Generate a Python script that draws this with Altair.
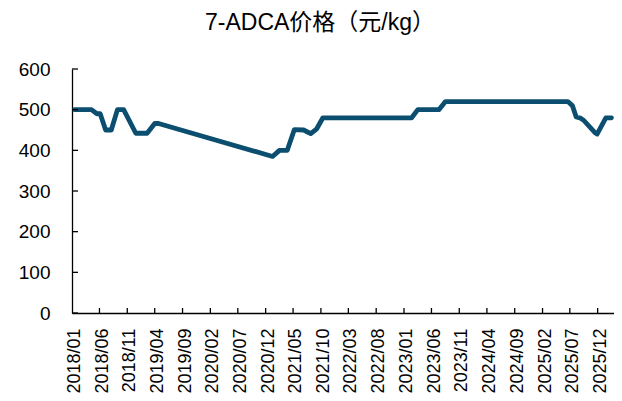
import altair as alt
import pandas as pd

# ---- data ----
dates = [
    "2018-01-15", "2018-04-18", "2018-05-18", "2018-06-05", "2018-07-05",
    "2018-08-05", "2018-09-08", "2018-10-12", "2018-12-18", "2019-02-18",
    "2019-04-01", "2019-04-22", "2021-01-08", "2021-02-15", "2021-03-30",
    "2021-05-08", "2021-06-28", "2021-08-06", "2021-09-08", "2021-10-12",
    "2023-02-12", "2023-03-18", "2023-07-12", "2023-08-17", "2025-06-20",
    "2025-07-15", "2025-08-05", "2025-08-25", "2025-09-15", "2025-11-15",
    "2025-11-28", "2026-01-15", "2026-02-15",
]
prices = [
    500, 500, 490, 490, 450,
    450, 500, 500, 442, 442,
    466, 466, 385, 400, 400,
    451, 450, 441, 453, 480,
    480, 500, 500, 520, 520,
    510, 482, 480, 474, 444,
    440, 480, 480,
]
y_ticks = [0, 100, 200, 300, 400, 500, 600]
x_labels = [
    "2018/01", "2018/06", "2018/11", "2019/04", "2019/09", "2020/02", "2020/07",
    "2020/12", "2021/05", "2021/10", "2022/03", "2022/08", "2023/01", "2023/06",
    "2023/11", "2024/04", "2024/09", "2025/02", "2025/07", "2025/12",
]
title_text = "7-ADCA价格（元/kg）"

# ---- style ----
FONT = "Liberation Sans, Arial, Noto Sans CJK SC, sans-serif"
COLOR = "#0C4E70"
W, H = 542, 244

label_vals = [alt.DateTime(year=int(s[:4]), month=int(s[5:]), date=15, utc=True) for s in x_labels]
tick_dates = [s.replace("/", "-") + "-01" for s in x_labels[1:]]

x_scale = alt.Scale(
    type="utc",
    domain=[alt.DateTime(year=2018, month=1, date=1, utc=True),
            alt.DateTime(year=2026, month=3, date=1, utc=True)],
)
y_scale = alt.Scale(domain=[0, 600], nice=False, zero=True)

df = pd.DataFrame({"date": dates, "price": prices})

line = alt.Chart(df).mark_line(
    color=COLOR, strokeWidth=4.8, strokeJoin="round", strokeCap="round"
).encode(
    x=alt.X(
        "date:T", scale=x_scale,
        axis=alt.Axis(
            values=label_vals,
            labelExpr="utcFormat(datum.value, '%Y/%m')",
            labelAngle=-90, labelAlign="right", labelBaseline="middle",
            labelPadding=15, ticks=False, tickSize=0, grid=False,
            domainColor="black", domainWidth=1.3,
            labelFont=FONT, labelFontSize=18, labelColor="black",
            labelOverlap=False, labelFlush=False, labelBound=False, title=None,
        ),
    ),
    y=alt.Y(
        "price:Q", scale=y_scale,
        axis=alt.Axis(
            values=y_ticks, labelPadding=22, ticks=False, tickSize=0, grid=False,
            domainColor="black", domainWidth=1.3,
            labelFont=FONT, labelFontSize=19, labelColor="black", title=None,
        ),
    ),
)

ytick = alt.Chart(pd.DataFrame({"v": y_ticks})).mark_rule(
    color="black", strokeWidth=1.3
).encode(
    y=alt.Y("v:Q", scale=y_scale, axis=None),
    x=alt.value(0), x2=alt.value(6),
)

xtick = alt.Chart(pd.DataFrame({"d": tick_dates})).mark_rule(
    color="black", strokeWidth=1.3
).encode(
    x=alt.X("d:T", scale=x_scale, axis=None),
    y=alt.value(H), y2=alt.value(H - 5),
)

chart = alt.layer(line, ytick, xtick).resolve_axis(
    x="independent", y="independent"
).properties(
    width=W, height=H,
    title=alt.TitleParams(
        text=title_text, font=FONT, fontSize=23, fontWeight="normal",
        color="black", anchor="middle", dx=-23, offset=25,
    ),
    autosize=alt.AutoSizeParams(type="none"),
    padding={"left": 64, "top": 61, "right": 0, "bottom": 80},
).configure_view(stroke=None)

chart.save("out.html", embed_options={"renderer": "svg", "actions": False})
